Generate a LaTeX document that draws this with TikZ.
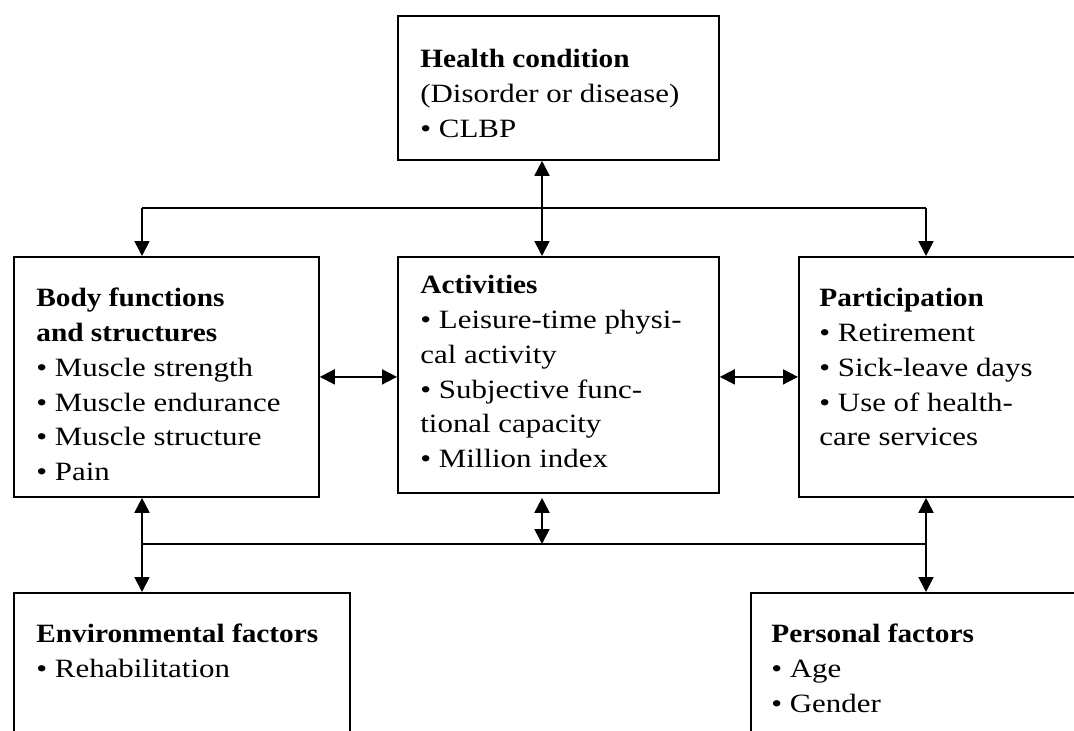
\documentclass[tikz,border=0pt]{standalone}
\usepackage{fontspec}
\setmainfont{Liberation Serif}[FakeStretch=1.17, BoldFeatures={FakeStretch=1.11}]
\usetikzlibrary{arrows.meta,calc}

\tikzset{
  box/.style={draw, line width=0.9pt, anchor=north west, inner sep=0pt},
  txt/.style={anchor=north west, align=left, inner sep=0pt,
    font=\fontsize{13.2}{17.4}\selectfont},
  link/.style={line width=0.9pt},
  tip/.style={link, -{Triangle[length=7.5pt,width=7.5pt]}},
  dbl/.style={link, {Triangle[length=7.5pt,width=7.5pt]}-{Triangle[length=7.5pt,width=7.5pt]}}
}

\begin{document}
\begin{tikzpicture}[x=0.5pt, y=-0.5pt]
    \def \tx {23} % text inset from the left border
    \def \ty {26} % text inset from the top border
    \useasboundingbox (0,0) rectangle (1074,730);
    \clip (0,0) rectangle (1074,730);

    % boxes (sizes in pt, half the pixel sizes)
    \node[box, minimum width=160.5pt, minimum height=72pt] (health) at (397,15) {};
    \node[box, minimum width=152.5pt, minimum height=120pt] (body) at (13,256) {};
    \node[box, minimum width=160.5pt, minimum height=118pt] (act) at (397,256) {};
    \node[box, minimum width=150pt, minimum height=120pt] (part) at (798,256) {};
    \node[box, minimum width=168pt, minimum height=85pt] (env) at (13,592) {};
    \node[box, minimum width=174pt, minimum height=85pt] (pers) at (750,592) {};

    % texts
    \node[txt] (healthtxt) at ($(health.north west)+(\tx,\ty+2)$)
      {\strut\textbf{Health condition}\\(Disorder or disease)\\• CLBP};
    \node[txt] (bodytxt) at ($(body.north west)+(\tx,\ty)$)
      {\strut\textbf{Body functions}\\\textbf{and structures}\\• Muscle strength\\
       • Muscle endurance\\• Muscle structure\\• Pain};
    \node[txt] (acttxt) at ($(act.north west)+(\tx,\ty-13)$)
      {\strut\textbf{Activities}\\• Leisure-time physi-\\cal activity\\
       • Subjective func-\\tional capacity\\• Million index};
    \node[txt] (parttxt) at ($(part.north west)+(21,\ty)$)
      {\strut\textbf{Participation}\\• Retirement\\• Sick-leave days\\
       • Use of health-\\care services};
    \node[txt] (envtxt) at ($(env.north west)+(\tx,\ty)$)
      {\strut\textbf{Environmental factors}\\• Rehabilitation};
    \node[txt] (perstxt) at ($(pers.north west)+(21,\ty)$)
      {\strut\textbf{Personal factors}\\• Age\\• Gender};

    % columns and buses of the connectors
    \coordinate (lcol) at (142,0);
    \coordinate (ccol) at (542,0);
    \coordinate (rcol) at (926,0);
    \coordinate (topbus) at (0,208);
    \coordinate (botbus) at (0,544);

    \draw[dbl] (health.south -| ccol) -- (act.north -| ccol);
    \draw[link] (topbus -| lcol) -- (topbus -| rcol);
    \draw[tip] (topbus -| lcol) -- (body.north -| lcol);
    \draw[tip] (topbus -| rcol) -- (part.north -| rcol);
    \draw[dbl] (body.east) -- (body.east -| act.west);
    \draw[dbl] (act.east |- body.east) -- (part.west |- body.east);
    \draw[dbl] (body.south -| lcol) -- (env.north -| lcol);
    \draw[dbl] (part.south -| rcol) -- (pers.north -| rcol);
    \draw[link] (botbus -| lcol) -- (botbus -| rcol);
    \draw[dbl, shorten <=2pt] (act.south -| ccol) -- (botbus -| ccol);
\end{tikzpicture}
\end{document}
